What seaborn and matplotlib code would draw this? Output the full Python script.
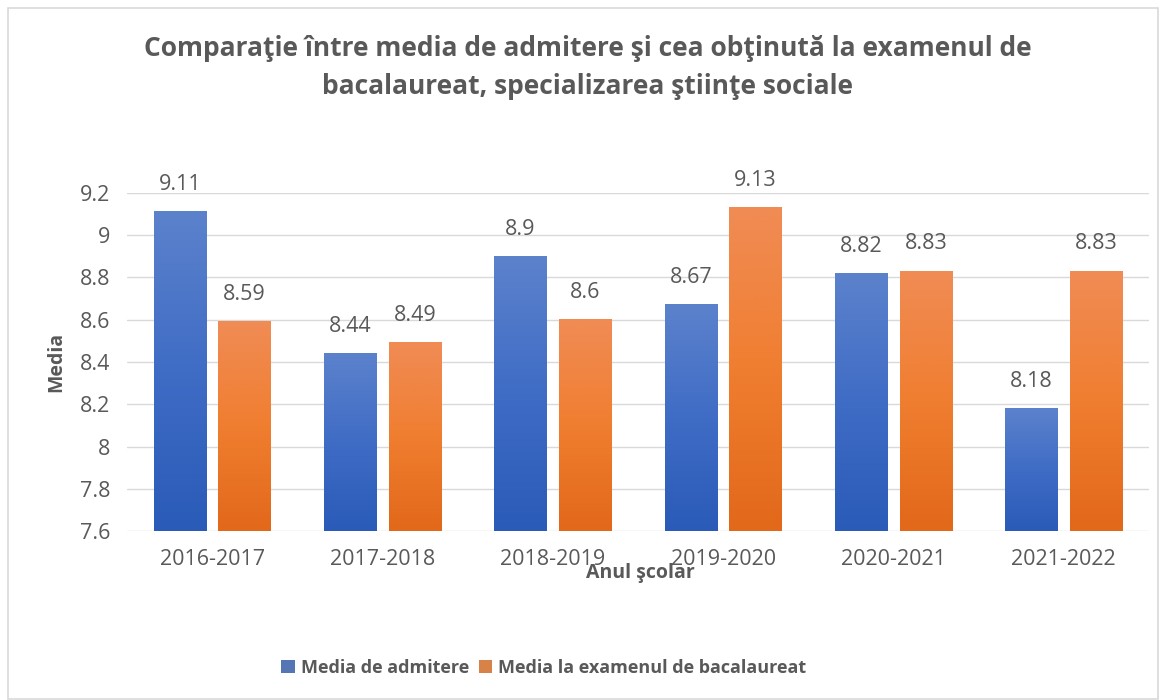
import numpy as np
import pandas as pd
import matplotlib
matplotlib.use("Agg")
import matplotlib.pyplot as plt
import seaborn as sns
from matplotlib.colors import LinearSegmentedColormap
from matplotlib.patches import Rectangle

years = ["2016-2017", "2017-2018", "2018-2019", "2019-2020", "2020-2021", "2021-2022"]
admitere = [9.11, 8.44, 8.90, 8.67, 8.82, 8.18]
bacalaureat = [8.59, 8.49, 8.60, 9.13, 8.83, 8.83]
series_names = ["Media de admitere", "Media la examenul de bacalaureat"]
yticks = [7.6, 7.8, 8.0, 8.2, 8.4, 8.6, 8.8, 9.0, 9.2]

df = pd.DataFrame({
    "Anul": years * 2,
    "Media": admitere + bacalaureat,
    "Serie": [series_names[0]] * len(years) + [series_names[1]] * len(years),
})

sns.set_theme(style="white")
plt.rcParams["font.family"] = ["Open Sans", "DejaVu Sans"]
GRAY = "#595959"

fig = plt.figure(figsize=(11.66, 7), dpi=100)
ax = fig.add_axes([0.1089, 0.2414, 0.8765, 0.4829])

base_colors = ["#4472C4", "#ED7D31"]
sns.barplot(data=df, x="Anul", y="Media", hue="Serie", hue_order=series_names,
            palette=base_colors, width=0.76, gap=0.195, ax=ax, zorder=2,
            linewidth=0, edgecolor="none")

YMIN, YMAX = 7.6, 9.2
ax.set_ylim(YMIN, YMAX)
ax.set_yticks(yticks)
ax.set_yticklabels([f"{t:g}" for t in yticks])
ax.grid(axis="y", color="#D9D9D9", linewidth=1.0, zorder=0)
ax.set_axisbelow(True)
for s in ax.spines.values():
    s.set_visible(False)
ax.tick_params(axis="both", which="both", length=0, labelsize=15.5, labelcolor=GRAY)
ax.tick_params(axis="y", pad=12)
ax.tick_params(axis="x", pad=13)

grads = [
    LinearSegmentedColormap.from_list("b", ["#2A5BB8", "#3F6CC5", "#5C82CC"]),
    LinearSegmentedColormap.from_list("o", ["#E2681A", "#F07E30", "#F08C55"]),
]
grad = np.linspace(0, 1, 256).reshape(-1, 1)
for ci, cont in enumerate(ax.containers):
    for p in cont.patches:
        x0 = p.get_x()
        w, h = p.get_width(), p.get_height()
        top = p.get_y() + h
        im = ax.imshow(grad, cmap=grads[ci], origin="lower", aspect="auto",
                       extent=[x0, x0 + w, YMIN, top], zorder=2.5)
    ax.bar_label(cont, fmt="%g", padding=12, fontsize=15.5, color=GRAY)
ax.set_xlim(-0.5, len(years) - 0.5)
ax.set_ylim(YMIN, YMAX)
ax.set_aspect("auto")

ax.set_xlabel("")
ax.set_ylabel("")
fig.text(0.549, 1 - 573 / 700, "Anul şcolar", ha="center", va="center",
         fontsize=14, fontweight="bold", color=GRAY)
fig.text(56 / 1166, 1 - 362 / 700, "Media", ha="center", va="center",
         rotation=90, fontsize=14, fontweight="bold", color=GRAY)

fig.text(0.504, 1 - 49 / 700, "Comparaţie între media de admitere şi cea obţinută la examenul de",
         ha="center", va="center", fontsize=19, fontweight="bold", color=GRAY)
fig.text(0.504, 1 - 87 / 700, "bacalaureat, specializarea ştiinţe sociale",
         ha="center", va="center", fontsize=19, fontweight="bold", color=GRAY)

handles, labels = ax.get_legend_handles_labels()
ax.legend(handles, labels, loc="center", bbox_to_anchor=(544 / 1166, 1 - 668 / 700),
          bbox_transform=fig.transFigure, ncol=2, frameon=False,
          prop={"size": 13, "weight": "bold"}, labelcolor=GRAY,
          handlelength=0.75, handleheight=0.75, handletextpad=0.35, columnspacing=0.5)

fig.patches.append(Rectangle((8 / 1166, 1 / 700), 1150 / 1166, 691 / 700,
                             transform=fig.transFigure, fill=False,
                             edgecolor="#D9D9D9", linewidth=1.2))

fig.savefig("out.png", dpi=100, facecolor="white")
